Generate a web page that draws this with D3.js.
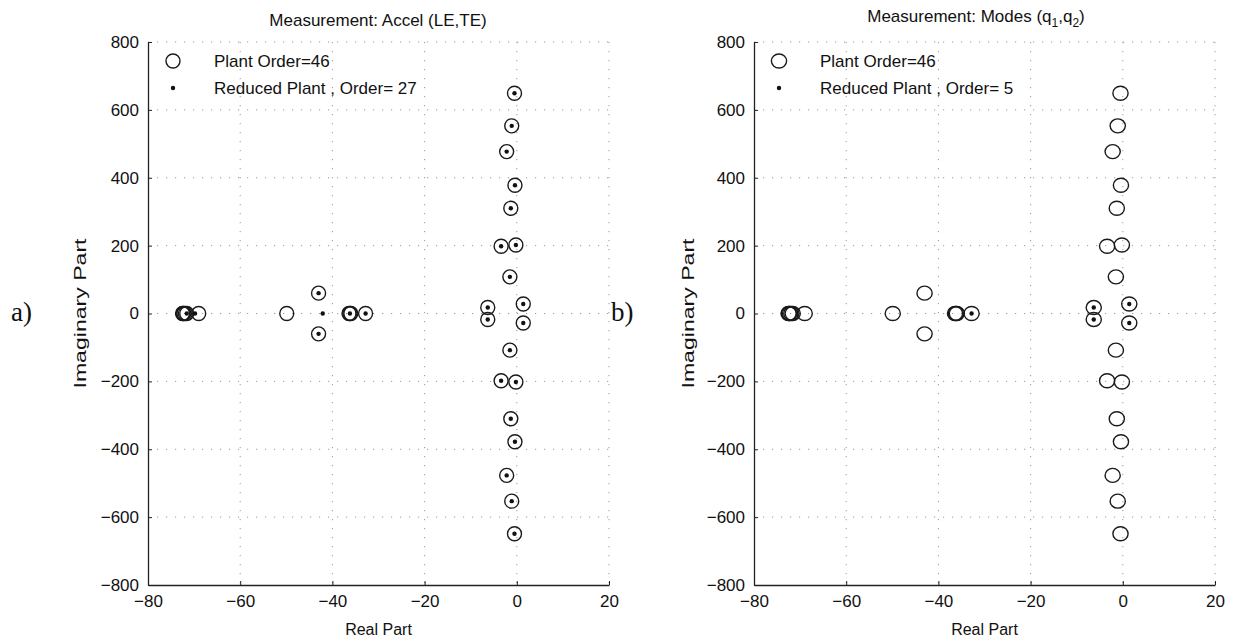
<!DOCTYPE html>
<html>
<head>
<meta charset="utf-8">
<script src="https://cdn.jsdelivr.net/npm/d3@7"></script>
<style>
  body { margin: 0; background: #fff; }
  svg text { font-family: "Liberation Sans", Arial, sans-serif; fill: #111; }
  .grid line { stroke: #999; stroke-width: 1; stroke-dasharray: 1.2,7.8; }
</style>
</head>
<body>
<div id="chart"></div>
<script>
// plant poles (same plant in both panels)
const plantRe = [-0.5, -0.5, -1.1, -1.1, -2.2, -2.2, -0.4, -0.4, -1.3, -1.3,
                 -3.4, -3.4, -0.2, -0.2, -1.5, -1.5, 1.4, 1.4, -6.3, -6.3,
                 -43, -43, -72.5, -72.4, -72.2, -71.9, -71.6, -69.0,
                 -49.9, -36.4, -36.2, -36.0, -32.8];
const plantIm = [649, -649, 553, -553, 477, -477, 378, -378, 310, -310,
                 198, -198, 202, -202, 108, -108, 28, -28, 17.5, -17.5,
                 60, -60, 0, 0, 0, 0, 0, 0,
                 0, 0, 0, 0, 0];

// reduced plant a): order 27
const redARe = [-0.5, -0.5, -1.1, -1.1, -2.2, -2.2, -0.4, -0.4, -1.3, -1.3,
                -3.4, -3.4, -0.2, -0.2, -1.5, -1.5, 1.4, 1.4, -6.3, -6.3,
                -43, -43, -42.1, -36.2, -32.8, -71.6, -69.8];
const redAIm = [649, -649, 553, -553, 477, -477, 378, -378, 310, -310,
                198, -198, 202, -202, 108, -108, 28, -28, 17.5, -17.5,
                60, -60, 0, 0, 0, 0, 0];

// reduced plant b): order 5
const redBRe = [-32.8, -6.3, -6.3, 1.4, 1.4];
const redBIm = [0, 17.5, -17.5, 28, -28];

const xTicks = [-80, -60, -40, -20, 0, 20];
const yTicks = [-800, -600, -400, -200, 0, 200, 400, 600, 800];

const W = 1233, H = 639;
const top_y = 42, bottom_y = 585;

const svg = d3.select("#chart").append("svg")
    .attr("width", W).attr("height", H);

const panels = [
  { left: 148, right: 609, tag: "a)", tagX: 11, ylabX: 80,
    title: ["Measurement: Accel (LE,TE)"], titleX: 378, titleY: 26,
    redRe: redARe, redIm: redAIm, redOrder: 27, rx: 7, ry: 7 },
  { left: 754, right: 1215, tag: "b)", tagX: 611, ylabX: 688,
    title: null, titleX: 976, titleY: 22,
    redRe: redBRe, redIm: redBIm, redOrder: 5, rx: 7.6, ry: 7 }
];

const minus = d => d3.format("")(d).replace("-", "\u2212");

panels.forEach(p => {
  const x = d3.scaleLinear().domain([-80, 20]).range([p.left, p.right]);
  const y = d3.scaleLinear().domain([-800, 800]).range([bottom_y, top_y]);
  const g = svg.append("g");

  // grid
  const grid = g.append("g").attr("class", "grid");
  grid.selectAll(".gx").data(xTicks.filter(d => d !== -80)).join("line")
      .attr("x1", d => x(d)).attr("x2", d => x(d))
      .attr("y1", top_y).attr("y2", bottom_y);
  grid.selectAll(".gy").data(yTicks.filter(d => d !== -800)).join("line")
      .attr("x1", p.left).attr("x2", p.right)
      .attr("y1", d => y(d)).attr("y2", d => y(d));

  // axes
  const xAxis = g.append("g")
      .attr("transform", `translate(0,${bottom_y})`)
      .call(d3.axisBottom(x).tickValues(xTicks).tickSizeInner(-4).tickSizeOuter(0)
            .tickPadding(8).tickFormat(minus));
  const yAxis = g.append("g")
      .attr("transform", `translate(${p.left},0)`)
      .call(d3.axisLeft(y).tickValues(yTicks).tickSizeInner(-4).tickSizeOuter(0)
            .tickPadding(9).tickFormat(minus));
  [xAxis, yAxis].forEach(a => {
    a.select(".domain").attr("stroke", "#222").attr("stroke-width", 1.3);
    a.selectAll(".tick line").attr("stroke", "#222");
    a.selectAll("text").style("font-size", "17px").attr("fill", "#111");
  });
  xAxis.selectAll("text").attr("dy", "0.85em");

  // axis labels
  g.append("text").attr("x", (p.left + p.right) / 2).attr("y", 635)
      .attr("text-anchor", "middle").style("font-size", "16px").text("Real Part");
  g.append("text")
      .attr("transform", `translate(${p.ylabX},${(top_y + bottom_y) / 2}) rotate(-90)`)
      .attr("text-anchor", "middle").attr("dy", "0.35em")
      .attr("textLength", 150).attr("lengthAdjust", "spacingAndGlyphs")
      .style("font-size", "16px").text("Imaginary Part");

  // title
  const t = g.append("text").attr("x", p.titleX).attr("y", p.titleY)
      .attr("text-anchor", "middle").style("font-size", "17px");
  if (p.title) {
    t.text(p.title[0]);
  } else {
    t.append("tspan").text("Measurement: Modes (q");
    t.append("tspan").attr("dy", 5).style("font-size", "12px").text("1");
    t.append("tspan").attr("dy", -5).text(",q");
    t.append("tspan").attr("dy", 5).style("font-size", "12px").text("2");
    t.append("tspan").attr("dy", -5).text(")");
  }

  // panel tag
  svg.append("text").attr("x", p.tagX).attr("y", 321)
      .style("font-family", "'Liberation Serif', 'Times New Roman', serif")
      .style("font-size", "27px").text(p.tag);

  // plant poles
  const plant = plantRe.map((r, i) => ({ re: r, im: plantIm[i] }));
  g.append("g").selectAll("ellipse").data(plant).join("ellipse")
      .attr("cx", d => x(d.re)).attr("cy", d => y(d.im))
      .attr("rx", p.rx).attr("ry", p.ry)
      .attr("fill", "none").attr("stroke", "#1a1a1a").attr("stroke-width", 1.4);

  // reduced poles
  const red = p.redRe.map((r, i) => ({ re: r, im: p.redIm[i] }));
  g.append("g").selectAll("circle").data(red).join("circle")
      .attr("cx", d => x(d.re)).attr("cy", d => y(d.im))
      .attr("r", 2.2).attr("fill", "#111");

  // legend
  const lg = g.append("g");
  const lx = p.left + 25;
  lg.append("ellipse").attr("cx", lx).attr("cy", 61).attr("rx", p.rx).attr("ry", p.ry)
      .attr("fill", "none").attr("stroke", "#1a1a1a").attr("stroke-width", 1.4);
  lg.append("circle").attr("cx", lx).attr("cy", 88).attr("r", 2.2).attr("fill", "#111");
  lg.append("text").attr("x", p.left + 66).attr("y", 61).attr("dy", "0.35em")
      .style("font-size", "17px").text("Plant Order=46");
  lg.append("text").attr("x", p.left + 66).attr("y", 88).attr("dy", "0.35em")
      .style("font-size", "17px").text("Reduced Plant , Order= " + p.redOrder);
});
</script>
</body>
</html>
